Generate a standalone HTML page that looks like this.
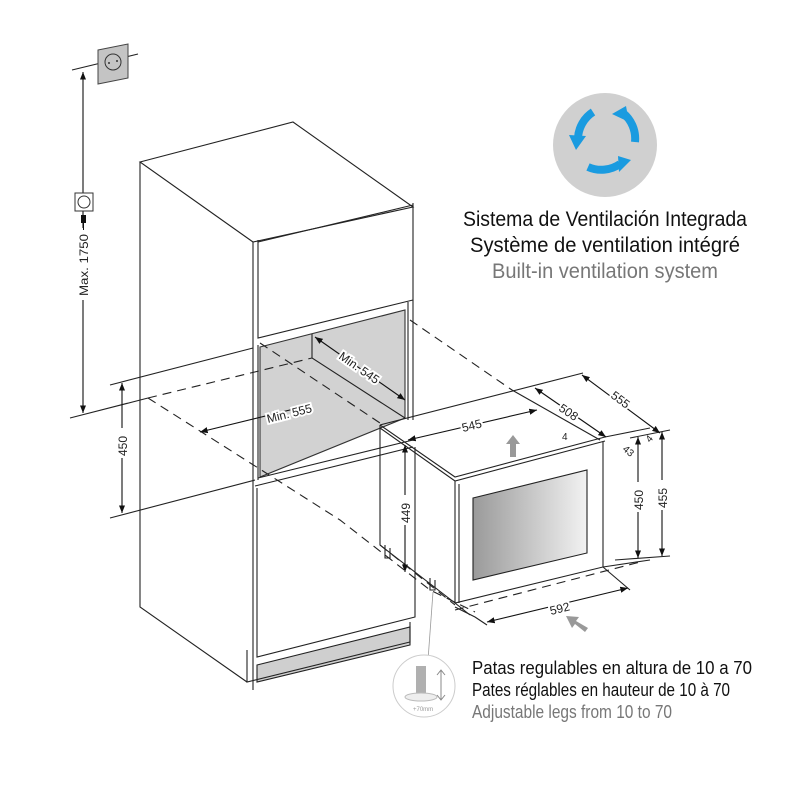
<!DOCTYPE html>
<html><head><meta charset="utf-8"><style>
html,body{margin:0;padding:0;background:#fff;}
svg{display:block}
.t{font-family:"Liberation Sans Narrow","Liberation Sans",sans-serif;}
</style></head><body>
<svg width="800" height="800" viewBox="0 0 800 800" xmlns="http://www.w3.org/2000/svg">
<defs>
<marker id="a" viewBox="0 0 10 10" refX="10" refY="5" markerWidth="7" markerHeight="7" orient="auto-start-reverse"><path d="M0,1 L10,5 L0,9 z" fill="#111"/></marker>
<linearGradient id="g" x1="0" x2="1" y1="0" y2="0"><stop offset="0" stop-color="#9a9a9a"/><stop offset="1" stop-color="#f2f2f2"/></linearGradient>
</defs>
<g fill="none" stroke="#222" stroke-width="1.1">
<path d="M140,162 L293,122 L413,207 L253,242 Z" fill="#fff"/>
<path d="M140,162 L140,607 L247,682"/>
<path d="M253,242 L253,338 M258,240 L258,338 L413,300 L413,203"/>
<path d="M258,242 L413,205"/>
<path d="M260,347 L405,310 L405,418 L260,477 Z" fill="#d2d2d2" stroke="#333"/>
<path d="M312,334 L312,358 L405,418" />
<path d="M253,338 L253,690 M258,345 L258,480"/>
<path d="M408,302 L408,420 M413,300 L413,420"/>
<path d="M258,478 L413,440 M255,486 L413,447"/>
<path d="M257,488 L257,657 L415,617 L415,447"/>
<path d="M257,665 L410,627 L410,645 L257,682 Z" fill="#cfcfcf"/>
<path d="M247,650 L247,682 L410,642 L410,622"/>
<path d="M70,418 L148,398"/>
<path d="M110,385 L253,348"/>
<path d="M110,518 L255,480"/>
<path d="M72,70 L138,54"/>
<g stroke-dasharray="9,6">
<path d="M148,398 L312,358"/>
<path d="M148,398 L340,520 L430,590 L475,612"/>
<path d="M260,343 L380,423"/>
<path d="M410,320 L512,390"/>
<path d="M380,545 L455,605"/>
<path d="M455,610 L640,562"/>
</g>
<path d="M512,390 L600,440"/>
<path d="M380,425 L583,373"/>
<path d="M380,425 L455,477 L605,437 L650,428"/>
<path d="M380,428 L455,481 L605,441 M455,481 L455,603 L603,567 L603,441 M459,484 L459,603"/>
<path d="M380,425 L380,545 L455,603"/>
<path d="M473,498 L587,470 L587,553 L473,580 Z" fill="url(#g)" stroke="#222"/>
<path d="M385,545 L385,558 L390,558 L390,548 M430,578 L430,590 L435,590 L435,580"/>
<path d="M455,603 L470,615 M603,567 L650,560 M603,567 L630,590"/>
<path d="M455,607 L475,617 L487,625"/>
<path d="M630,438 L670,430"/>
<path d="M615,560 L670,556"/>
<g stroke="#111">
<path d="M83,72 L83,413" marker-start="url(#a)" marker-end="url(#a)"/>
<path d="M122,383 L122,513" marker-start="url(#a)" marker-end="url(#a)"/>
<path d="M315,337 L405,400" marker-start="url(#a)" marker-end="url(#a)"/>
<path d="M200,432 L298,408" marker-start="url(#a)" marker-end="url(#a)"/>
<path d="M408,440 L537,410" marker-start="url(#a)" marker-end="url(#a)"/>
<path d="M535,388 L606,437" marker-start="url(#a)" marker-end="url(#a)"/>
<path d="M582,375 L660,433" marker-start="url(#a)" marker-end="url(#a)"/>
<path d="M638,437 L638,558" marker-start="url(#a)" marker-end="url(#a)"/>
<path d="M662,432 L662,556" marker-start="url(#a)" marker-end="url(#a)"/>
<path d="M405,445 L405,572" marker-start="url(#a)" marker-end="url(#a)"/>
<path d="M487,622 L628,588" marker-start="url(#a)" marker-end="url(#a)"/>
</g>
<path d="M433,592 L428,660" stroke="#999" stroke-width="0.8"/>
</g>
<g fill="#fff">
<rect x="74" y="228" width="18" height="72"/>
<rect x="114" y="428" width="16" height="30"/>
<rect x="397" y="495" width="16" height="30"/>
<rect x="630" y="482" width="16" height="30"/>
<rect x="654" y="480" width="16" height="30"/>
</g>
<g class="t" font-size="12" fill="#222">
<text x="88" y="296" transform="rotate(-90 88 296)" textLength="62" lengthAdjust="spacingAndGlyphs">Max. 1750</text>
<text x="127" y="456" transform="rotate(-90 127 456)">450</text>
<text x="410" y="523" transform="rotate(-90 410 523)">449</text>
<text x="643" y="510" transform="rotate(-90 643 510)">450</text>
<text x="667" y="508" transform="rotate(-90 667 508)">455</text>
<text x="338" y="358" transform="rotate(35 338 358)" stroke="#fff" stroke-width="4" paint-order="stroke" textLength="46" lengthAdjust="spacingAndGlyphs">Min. 545</text>
<text x="268" y="423" transform="rotate(-14 268 423)" stroke="#fff" stroke-width="4" paint-order="stroke" textLength="46" lengthAdjust="spacingAndGlyphs">Min. 555</text>
<text x="463" y="432" transform="rotate(-14 463 432)" stroke="#fff" stroke-width="4" paint-order="stroke">545</text>
<text x="558" y="410" transform="rotate(34 558 410)" stroke="#fff" stroke-width="4" paint-order="stroke">508</text>
<text x="610" y="397" transform="rotate(37 610 397)" stroke="#fff" stroke-width="4" paint-order="stroke">555</text>
<text x="551" y="615" transform="rotate(-14 551 615)" stroke="#fff" stroke-width="4" paint-order="stroke">592</text>
<text x="562" y="440" font-size="10">4</text>
<text x="622" y="450" font-size="10" transform="rotate(40 622 450)">43</text>
<text x="650" y="443" font-size="10" transform="rotate(-50 650 443)">4</text>
</g>
<path d="M510,457 L510,444 L506,444 L513,435 L520,444 L516,444 L516,457 Z" fill="#999"/>
<path d="M585,632 L575,624 L572,628 L566,616 L579,617 L576,621 L588,628 Z" fill="#999"/>
<path d="M98,50 L128,44 L128,78 L98,84 Z" fill="#c4c4c4" stroke="#444"/>
<circle cx="113" cy="62" r="8" fill="none" stroke="#333"/>
<circle cx="109" cy="63" r="1" fill="#333"/><circle cx="117" cy="61" r="1" fill="#333"/>
<rect x="75" y="193" width="18" height="18" fill="#fff" stroke="#333"/>
<circle cx="84" cy="202" r="6" fill="none" stroke="#333"/>
<rect x="81" y="215" width="5" height="8" fill="#111"/><path d="M83.5,223 L83.5,230" stroke="#111"/>
<circle cx="605" cy="145" r="52" fill="#d0d0d0"/>
<g fill="none" stroke="#1a9be0" stroke-width="8">
<path d="M593,112 A33,33 0 0 0 578,138"/>
<path d="M623,113 A33,33 0 0 1 635,142"/>
<path d="M588,167 A33,33 0 0 0 620,164"/>
</g>
<path d="M569,135 L586,136 L576,150 Z" fill="#1a9be0"/>
<path d="M612,114 L626,106 L629,122 Z" fill="#1a9be0"/>
<path d="M618,156 L631,160 L619,172 Z" fill="#1a9be0"/>
<circle cx="424" cy="686" r="31" fill="#fff" stroke="#ccc"/>
<rect x="416" y="666" width="10" height="28" fill="#b0b0b0"/>
<ellipse cx="421" cy="697" rx="16" ry="4" fill="#eee" stroke="#bbb"/>
<path d="M441,670 L441,700 M437,675 L441,670 L445,675 M437,695 L441,700 L445,695" stroke="#888" fill="none"/>
<text x="413" y="711" font-family="Liberation Sans" font-size="6" fill="#999">+70mm</text>
<g class="t" font-size="21" text-anchor="middle">
<text x="605" y="226" fill="#111" textLength="284" lengthAdjust="spacingAndGlyphs">Sistema de Ventilación Integrada</text>
<text x="605" y="252" fill="#111" textLength="270" lengthAdjust="spacingAndGlyphs">Système de ventilation intégré</text>
<text x="605" y="278" fill="#777" textLength="226" lengthAdjust="spacingAndGlyphs">Built-in ventilation system</text>
</g>
<g class="t" font-size="18">
<text x="472" y="674" fill="#111" textLength="280" lengthAdjust="spacingAndGlyphs">Patas regulables en altura de 10 a 70</text>
<text x="472" y="696" fill="#111" textLength="258" lengthAdjust="spacingAndGlyphs">Pates réglables en hauteur de 10 à 70</text>
<text x="472" y="718" fill="#777" textLength="200" lengthAdjust="spacingAndGlyphs">Adjustable legs from 10 to 70</text>
</g>
</svg>
</body></html>
